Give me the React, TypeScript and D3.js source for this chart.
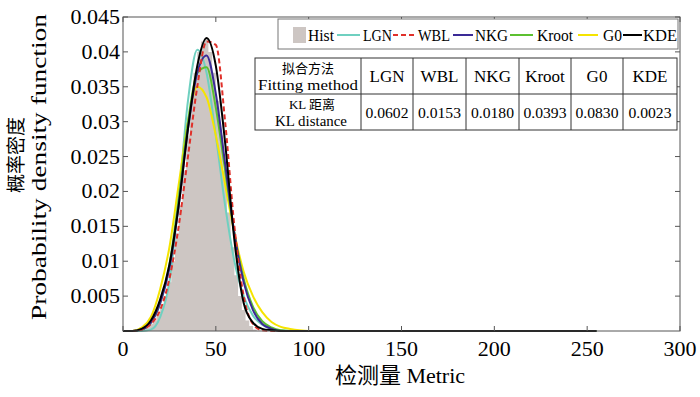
import React from 'react';
import * as d3 from 'd3';

// x grid shared by the fitted curves
const xs = [0, 5, 10, 15, 20, 25, 30, 35, 40, 45, 50, 55, 60, 65, 70, 75, 80, 85, 90, 95, 100, 255];

const lgn = [0, 0, 0, 0.0002, 0.002, 0.007, 0.019, 0.033, 0.0403, 0.037, 0.028, 0.018, 0.010, 0.005, 0.0022, 0.0009, 0.0003, 0.0001, 0, 0, 0, 0];
const wbl = [0, 0, 0.0002, 0.001, 0.003, 0.0075, 0.015, 0.025, 0.035, 0.0415, 0.041, 0.030, 0.015, 0.005, 0.001, 0.0001, 0, 0, 0, 0, 0, 0];
const nkg = [0, 0, 0.0002, 0.0012, 0.004, 0.009, 0.018, 0.029, 0.037, 0.0395, 0.034, 0.024, 0.014, 0.007, 0.003, 0.001, 0.0003, 0, 0, 0, 0, 0];
const kroot = [0, 0, 0.0002, 0.0012, 0.004, 0.0095, 0.019, 0.030, 0.037, 0.0378, 0.032, 0.023, 0.014, 0.0075, 0.0035, 0.0014, 0.0005, 0.0001, 0, 0, 0, 0];
const g0 = [0, 0, 0.0005, 0.002, 0.006, 0.012, 0.021, 0.030, 0.035, 0.0335, 0.028, 0.021, 0.014, 0.0085, 0.005, 0.0027, 0.0013, 0.0006, 0.0003, 0.0001, 0, 0];
const kde = [0, 0, 0.0003, 0.0015, 0.0045, 0.0095, 0.018, 0.029, 0.038, 0.042, 0.038, 0.027, 0.013, 0.004, 0.0012, 0.0003, 0.0001, 0, 0, 0, 0, 0];

// histogram, bin width 2
const histCenters = [11, 13, 15, 17, 19, 21, 23, 25, 27, 29, 31, 33, 35, 37, 39, 41, 43, 45, 47, 49, 51, 53, 55, 57, 59, 61, 63, 65, 67, 69, 71, 73];
const histValues = [0, 0.0005, 0.001, 0.0015, 0.0025, 0.0035, 0.005, 0.007, 0.010, 0.014, 0.018, 0.023, 0.028, 0.033, 0.037, 0.040, 0.0415, 0.0418, 0.040, 0.037, 0.033, 0.028, 0.023, 0.017, 0.012, 0.008, 0.005, 0.003, 0.0015, 0.0007, 0.0002, 0];

const xTicks = [0, 50, 100, 150, 200, 250, 300];
const yTicks = [0.005, 0.01, 0.015, 0.02, 0.025, 0.03, 0.035, 0.04, 0.045];

const methods = ['LGN', 'WBL', 'NKG', 'Kroot', 'G0', 'KDE'];
const klDistances = ['0.0602', '0.0153', '0.0180', '0.0393', '0.0830', '0.0023'];

const serif = '"Liberation Serif", "Times New Roman", serif';
const cjk = '"Noto Sans CJK SC", sans-serif';

const series = [
  { name: 'LGN', values: lgn, color: '#6fd0c0', dash: null },
  { name: 'G0', values: g0, color: '#f5e400', dash: null },
  { name: 'Kroot', values: kroot, color: '#5cc030', dash: null },
  { name: 'NKG', values: nkg, color: '#3a2a96', dash: null },
  { name: 'WBL', values: wbl, color: '#e0302a', dash: '5,3' },
  { name: 'KDE', values: kde, color: '#000000', dash: null },
];

export default function App() {
  const W = 700, H = 397;
  const x = d3.scaleLinear().domain([0, 300]).range([123, 680]);
  const y = d3.scaleLinear().domain([0, 0.045]).range([331, 17]);

  const line = d3.line<number>()
    .x((_, i) => x(xs[i]))
    .y(d => y(d))
    .curve(d3.curveMonotoneX);

  const histArea = d3.area<number>()
    .x((_, i) => x(histCenters[i]))
    .y0(y(0))
    .y1(d => y(d))
    .curve(d3.curveStep);

  // legend layout: [lineStart, lineEnd, textStart, textEnd]
  const legendLayout: Record<string, number[]> = {
    LGN: [337, 360, 363, 392],
    WBL: [393, 417, 418, 450],
    NKG: [453, 473, 475, 508],
    Kroot: [510, 533, 537, 573],
    G0: [578, 598, 603, 622],
    KDE: [623, 642, 643, 677],
  };
  const legendColor: Record<string, any> = {};
  series.forEach(s => { legendColor[s.name] = s; });

  const colX = [255, 361, 413, 466, 519, 571, 623, 677];

  return (
    <div style={{ position: 'absolute', left: 0, top: 0 }}>
      <svg width={W} height={H} style={{ display: 'block', background: '#fff' }}>
        {/* histogram */}
        <path d={histArea(histValues) || ''} fill="#cdc6c3" />

        {/* fitted curves */}
        {series.map(s => (
          <path key={s.name} d={line(s.values) || ''} fill="none" stroke={s.color}
            strokeWidth={2} strokeDasharray={s.dash || undefined} />
        ))}

        {/* frame */}
        <rect x={123} y={17} width={557} height={314} fill="none" stroke="#555" strokeWidth={1} />

        {/* x ticks */}
        {xTicks.map(t => (
          <g key={t}>
            <line x1={x(t)} x2={x(t)} y1={331} y2={326} stroke="#555" />
            <line x1={x(t)} x2={x(t)} y1={17} y2={22} stroke="#555" />
            <text x={x(t)} y={356} textAnchor="middle" fontFamily={serif} fontSize={22}>{t}</text>
          </g>
        ))}

        {/* y ticks */}
        {yTicks.map(t => (
          <g key={t}>
            <line x1={123} x2={128} y1={y(t)} y2={y(t)} stroke="#555" />
            <line x1={680} x2={675} y1={y(t)} y2={y(t)} stroke="#555" />
            <text x={120} y={y(t) + 7} textAnchor="end" fontFamily={serif} fontSize={22}>{String(t)}</text>
          </g>
        ))}

        {/* axis titles */}
        <text x={400} y={383} textAnchor="middle" fontSize={22}>
          <tspan fontFamily={cjk}>检测量</tspan>
          <tspan fontFamily={serif}> Metric</tspan>
        </text>
        <text transform="translate(23,155) rotate(-90)" textAnchor="middle" fontFamily={cjk} fontSize={19}>概率密度</text>
        <text transform="translate(46,167) rotate(-90)" textAnchor="middle" fontFamily={serif} fontSize={22}
          textLength={306} lengthAdjust="spacingAndGlyphs">Probability density function</text>

        {/* legend */}
        <rect x={278} y={19} width={400} height={30} fill="#fff" stroke="#777" strokeWidth={1} />
        <rect x={293} y={27} width={13} height={16} fill="#cdc6c3" />
        <text x={308} y={41} fontFamily={serif} fontSize={17} textLength={26} lengthAdjust="spacingAndGlyphs">Hist</text>
        {methods.map(m => {
          const [l0, l1, t0, t1] = legendLayout[m];
          const s = legendColor[m];
          return (
            <g key={m}>
              <line x1={l0} x2={l1} y1={35} y2={35} stroke={s.color} strokeWidth={2}
                strokeDasharray={s.dash || undefined} />
              <text x={t0} y={41} fontFamily={serif} fontSize={17} textLength={t1 - t0}
                lengthAdjust="spacingAndGlyphs">{m}</text>
            </g>
          );
        })}

        {/* KL table */}
        <rect x={255} y={58} width={422} height={72} fill="#fff" stroke="#333" strokeWidth={1} />
        <line x1={255} x2={677} y1={94} y2={94} stroke="#333" />
        {colX.slice(1, -1).map(cx => (
          <line key={cx} x1={cx} x2={cx} y1={58} y2={130} stroke="#333" />
        ))}
        <text x={308} y={73} textAnchor="middle" fontFamily={cjk} fontSize={13}>拟合方法</text>
        <text x={308} y={90} textAnchor="middle" fontFamily={serif} fontSize={15}
          textLength={100} lengthAdjust="spacingAndGlyphs">Fitting method</text>
        <text x={312} y={109} textAnchor="middle" fontSize={13}>
          <tspan fontFamily={serif}>KL </tspan>
          <tspan fontFamily={cjk}>距离</tspan>
        </text>
        <text x={311} y={126} textAnchor="middle" fontFamily={serif} fontSize={15}
          textLength={72} lengthAdjust="spacingAndGlyphs">KL distance</text>
        {methods.map((m, i) => {
          const cx = (colX[i + 1] + colX[i + 2]) / 2;
          return (
            <g key={m}>
              <text x={cx} y={82} textAnchor="middle" fontFamily={serif} fontSize={17}>{m}</text>
              <text x={cx} y={118} textAnchor="middle" fontFamily={serif} fontSize={15}
                textLength={43} lengthAdjust="spacingAndGlyphs">{klDistances[i]}</text>
            </g>
          );
        })}
      </svg>
    </div>
  );
}
